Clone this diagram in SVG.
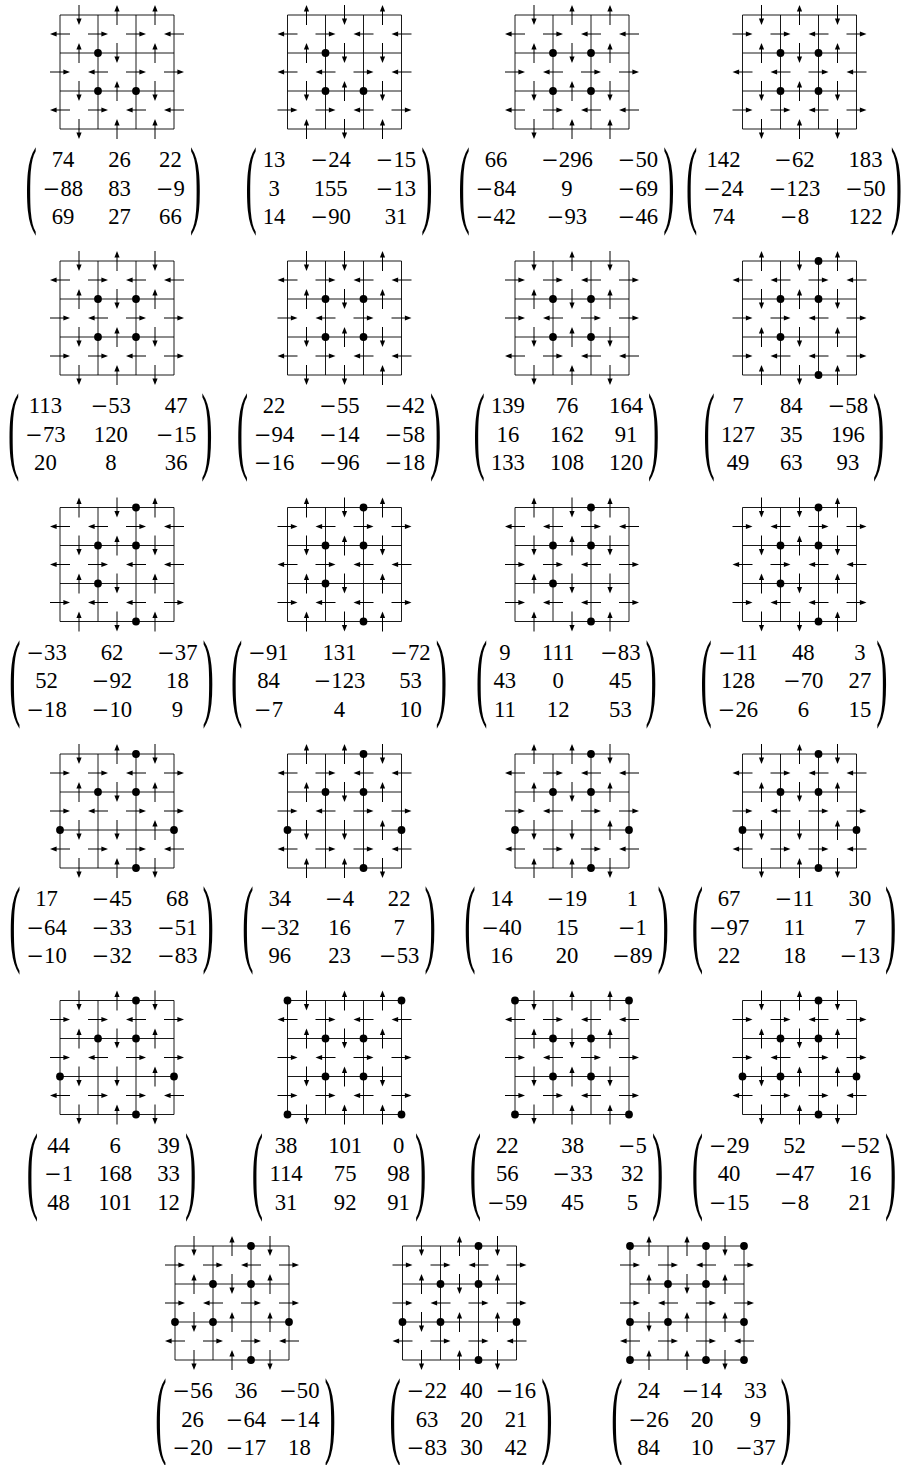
<svg xmlns="http://www.w3.org/2000/svg" width="910" height="1465" viewBox="0 0 910 1465">
<style>
.s{fill:none;stroke:#000;stroke-width:1}
.gl{fill:none;stroke:#000;stroke-width:0.9}
.n{font-family:"Liberation Serif",serif;font-size:22.7px;text-anchor:middle;fill:#000}
.mi{font-family:"DejaVu Serif",serif;font-size:21px}
.p{font-family:"Liberation Serif",serif;font-size:34px;fill:#000}
</style>
<defs>
<g id="U"><path class="s" d="M0 10V-4"/><path d="M0-10L-2.6-3.4H2.6Z"/></g>
<g id="D"><path class="s" d="M0-10V4"/><path d="M0 10L-2.6 3.4H2.6Z"/></g>
<g id="L"><path class="s" d="M10 0H-4"/><path d="M-10 0L-3.4-2.6V2.6Z"/></g>
<g id="R"><path class="s" d="M-10 0H4"/><path d="M10 0L3.4-2.6V2.6Z"/></g>
<path id="gr" class="gl" d="M0 0H114M0 38H114M0 76H114M0 114H114M0 0V114M38 0V114M76 0V114M114 0V114"/>
<circle id="dt" r="3.9"/>
</defs>

<g id="n1" transform="translate(60,15)">
<use href="#gr"/>
<use href="#D" x="19"/><use href="#U" x="57"/><use href="#U" x="95"/>
<use href="#U" x="19" y="38"/><use href="#D" x="57" y="38"/><use href="#U" x="95" y="38"/>
<use href="#D" x="19" y="76"/><use href="#U" x="57" y="76"/><use href="#D" x="95" y="76"/>
<use href="#D" x="19" y="114"/><use href="#U" x="57" y="114"/><use href="#U" x="95" y="114"/>
<use href="#L" y="19"/><use href="#R" x="38" y="19"/><use href="#R" x="76" y="19"/><use href="#L" x="114" y="19"/>
<use href="#R" y="57"/><use href="#L" x="38" y="57"/><use href="#R" x="76" y="57"/><use href="#R" x="114" y="57"/>
<use href="#L" y="95"/><use href="#R" x="38" y="95"/><use href="#L" x="76" y="95"/><use href="#L" x="114" y="95"/>
<use href="#dt" x="38" y="38"/><use href="#dt" x="38" y="76"/><use href="#dt" x="76" y="76"/>
<text class="p" transform="translate(-34.5 200.2) scale(1 2.87)">(</text><text class="p" transform="translate(129.9 200.2) scale(1 2.87)">)</text>
<text class="n" x="3" y="152.3">74</text><text class="n" x="59.5" y="152.3">26</text><text class="n" x="110.4" y="152.3">22</text>
<text class="n" x="3" y="180.6"><tspan class="mi">−</tspan>88</text><text class="n" x="59.5" y="180.6">83</text><text class="n" x="110.4" y="180.6"><tspan class="mi">−</tspan>9</text>
<text class="n" x="3" y="209">69</text><text class="n" x="59.5" y="209">27</text><text class="n" x="110.4" y="209">66</text>
</g>

<g id="n2" transform="translate(287.5,15)">
<use href="#gr"/>
<use href="#U" x="19"/><use href="#D" x="57"/><use href="#U" x="95"/>
<use href="#U" x="19" y="38"/><use href="#D" x="57" y="38"/><use href="#D" x="95" y="38"/>
<use href="#D" x="19" y="76"/><use href="#U" x="57" y="76"/><use href="#D" x="95" y="76"/>
<use href="#U" x="19" y="114"/><use href="#D" x="57" y="114"/><use href="#U" x="95" y="114"/>
<use href="#L" y="19"/><use href="#R" x="38" y="19"/><use href="#L" x="76" y="19"/><use href="#L" x="114" y="19"/>
<use href="#L" y="57"/><use href="#L" x="38" y="57"/><use href="#R" x="76" y="57"/><use href="#L" x="114" y="57"/>
<use href="#R" y="95"/><use href="#R" x="38" y="95"/><use href="#L" x="76" y="95"/><use href="#R" x="114" y="95"/>
<use href="#dt" x="38" y="38"/><use href="#dt" x="38" y="76"/><use href="#dt" x="76" y="76"/>
<text class="p" transform="translate(-42 200.2) scale(1 2.87)">(</text><text class="p" transform="translate(133.7 200.2) scale(1 2.87)">)</text>
<text class="n" x="-13.4" y="152.3">13</text><text class="n" x="43.2" y="152.3"><tspan class="mi">−</tspan>24</text><text class="n" x="108.5" y="152.3"><tspan class="mi">−</tspan>15</text>
<text class="n" x="-13.4" y="180.6">3</text><text class="n" x="43.2" y="180.6">155</text><text class="n" x="108.5" y="180.6"><tspan class="mi">−</tspan>13</text>
<text class="n" x="-13.4" y="209">14</text><text class="n" x="43.2" y="209"><tspan class="mi">−</tspan>90</text><text class="n" x="108.5" y="209">31</text>
</g>

<g id="n3" transform="translate(515,15)">
<use href="#gr"/>
<use href="#D" x="19"/><use href="#U" x="57"/><use href="#U" x="95"/>
<use href="#U" x="19" y="38"/><use href="#D" x="57" y="38"/><use href="#U" x="95" y="38"/>
<use href="#D" x="19" y="76"/><use href="#U" x="57" y="76"/><use href="#D" x="95" y="76"/>
<use href="#D" x="19" y="114"/><use href="#U" x="57" y="114"/><use href="#U" x="95" y="114"/>
<use href="#L" y="19"/><use href="#R" x="38" y="19"/><use href="#L" x="76" y="19"/><use href="#L" x="114" y="19"/>
<use href="#R" y="57"/><use href="#L" x="38" y="57"/><use href="#R" x="76" y="57"/><use href="#R" x="114" y="57"/>
<use href="#L" y="95"/><use href="#R" x="38" y="95"/><use href="#L" x="76" y="95"/><use href="#L" x="114" y="95"/>
<use href="#dt" x="38" y="38"/><use href="#dt" x="76" y="38"/><use href="#dt" x="38" y="76"/><use href="#dt" x="76" y="76"/>
<text class="p" transform="translate(-56.5 200.2) scale(1 2.87)">(</text><text class="p" transform="translate(148.2 200.2) scale(1 2.87)">)</text>
<text class="n" x="-19" y="152.3">66</text><text class="n" x="52" y="152.3"><tspan class="mi">−</tspan>296</text><text class="n" x="123" y="152.3"><tspan class="mi">−</tspan>50</text>
<text class="n" x="-19" y="180.6"><tspan class="mi">−</tspan>84</text><text class="n" x="52" y="180.6">9</text><text class="n" x="123" y="180.6"><tspan class="mi">−</tspan>69</text>
<text class="n" x="-19" y="209"><tspan class="mi">−</tspan>42</text><text class="n" x="52" y="209"><tspan class="mi">−</tspan>93</text><text class="n" x="123" y="209"><tspan class="mi">−</tspan>46</text>
</g>

<g id="n4" transform="translate(742.5,15)">
<use href="#gr"/>
<use href="#D" x="19"/><use href="#U" x="57"/><use href="#D" x="95"/>
<use href="#U" x="19" y="38"/><use href="#D" x="57" y="38"/><use href="#U" x="95" y="38"/>
<use href="#D" x="19" y="76"/><use href="#U" x="57" y="76"/><use href="#D" x="95" y="76"/>
<use href="#D" x="19" y="114"/><use href="#U" x="57" y="114"/><use href="#D" x="95" y="114"/>
<use href="#R" y="19"/><use href="#R" x="38" y="19"/><use href="#L" x="76" y="19"/><use href="#R" x="114" y="19"/>
<use href="#L" y="57"/><use href="#L" x="38" y="57"/><use href="#R" x="76" y="57"/><use href="#L" x="114" y="57"/>
<use href="#R" y="95"/><use href="#R" x="38" y="95"/><use href="#L" x="76" y="95"/><use href="#R" x="114" y="95"/>
<use href="#dt" x="38" y="38"/><use href="#dt" x="76" y="38"/><use href="#dt" x="38" y="76"/><use href="#dt" x="76" y="76"/>
<text class="p" transform="translate(-56.5 200.2) scale(1 2.87)">(</text><text class="p" transform="translate(148.2 200.2) scale(1 2.87)">)</text>
<text class="n" x="-19" y="152.3">142</text><text class="n" x="52" y="152.3"><tspan class="mi">−</tspan>62</text><text class="n" x="123" y="152.3">183</text>
<text class="n" x="-19" y="180.6"><tspan class="mi">−</tspan>24</text><text class="n" x="52" y="180.6"><tspan class="mi">−</tspan>123</text><text class="n" x="123" y="180.6"><tspan class="mi">−</tspan>50</text>
<text class="n" x="-19" y="209">74</text><text class="n" x="52" y="209"><tspan class="mi">−</tspan>8</text><text class="n" x="123" y="209">122</text>
</g>

<g id="n5" transform="translate(60,261)">
<use href="#gr"/>
<use href="#D" x="19"/><use href="#U" x="57"/><use href="#D" x="95"/>
<use href="#U" x="19" y="38"/><use href="#D" x="57" y="38"/><use href="#U" x="95" y="38"/>
<use href="#D" x="19" y="76"/><use href="#U" x="57" y="76"/><use href="#D" x="95" y="76"/>
<use href="#D" x="19" y="114"/><use href="#U" x="57" y="114"/><use href="#D" x="95" y="114"/>
<use href="#L" y="19"/><use href="#R" x="38" y="19"/><use href="#L" x="76" y="19"/><use href="#L" x="114" y="19"/>
<use href="#R" y="57"/><use href="#L" x="38" y="57"/><use href="#R" x="76" y="57"/><use href="#R" x="114" y="57"/>
<use href="#R" y="95"/><use href="#R" x="38" y="95"/><use href="#L" x="76" y="95"/><use href="#R" x="114" y="95"/>
<use href="#dt" x="38" y="38"/><use href="#dt" x="76" y="38"/><use href="#dt" x="38" y="76"/><use href="#dt" x="76" y="76"/>
<text class="p" transform="translate(-52 200.2) scale(1 2.87)">(</text><text class="p" transform="translate(141.3 200.2) scale(1 2.87)">)</text>
<text class="n" x="-14.6" y="152.3">113</text><text class="n" x="50.8" y="152.3"><tspan class="mi">−</tspan>53</text><text class="n" x="116.2" y="152.3">47</text>
<text class="n" x="-14.6" y="180.6"><tspan class="mi">−</tspan>73</text><text class="n" x="50.8" y="180.6">120</text><text class="n" x="116.2" y="180.6"><tspan class="mi">−</tspan>15</text>
<text class="n" x="-14.6" y="209">20</text><text class="n" x="50.8" y="209">8</text><text class="n" x="116.2" y="209">36</text>
</g>

<g id="n6" transform="translate(287.5,261)">
<use href="#gr"/>
<use href="#D" x="19"/><use href="#D" x="57"/><use href="#U" x="95"/>
<use href="#U" x="19" y="38"/><use href="#D" x="57" y="38"/><use href="#U" x="95" y="38"/>
<use href="#D" x="19" y="76"/><use href="#U" x="57" y="76"/><use href="#D" x="95" y="76"/>
<use href="#D" x="19" y="114"/><use href="#D" x="57" y="114"/><use href="#U" x="95" y="114"/>
<use href="#L" y="19"/><use href="#R" x="38" y="19"/><use href="#L" x="76" y="19"/><use href="#L" x="114" y="19"/>
<use href="#R" y="57"/><use href="#L" x="38" y="57"/><use href="#R" x="76" y="57"/><use href="#R" x="114" y="57"/>
<use href="#L" y="95"/><use href="#R" x="38" y="95"/><use href="#L" x="76" y="95"/><use href="#L" x="114" y="95"/>
<use href="#dt" x="38" y="38"/><use href="#dt" x="76" y="38"/><use href="#dt" x="38" y="76"/><use href="#dt" x="76" y="76"/>
<text class="p" transform="translate(-50.8 200.2) scale(1 2.87)">(</text><text class="p" transform="translate(142.5 200.2) scale(1 2.87)">)</text>
<text class="n" x="-13.4" y="152.3">22</text><text class="n" x="52" y="152.3"><tspan class="mi">−</tspan>55</text><text class="n" x="117.4" y="152.3"><tspan class="mi">−</tspan>42</text>
<text class="n" x="-13.4" y="180.6"><tspan class="mi">−</tspan>94</text><text class="n" x="52" y="180.6"><tspan class="mi">−</tspan>14</text><text class="n" x="117.4" y="180.6"><tspan class="mi">−</tspan>58</text>
<text class="n" x="-13.4" y="209"><tspan class="mi">−</tspan>16</text><text class="n" x="52" y="209"><tspan class="mi">−</tspan>96</text><text class="n" x="117.4" y="209"><tspan class="mi">−</tspan>18</text>
</g>

<g id="n7" transform="translate(515,261)">
<use href="#gr"/>
<use href="#D" x="19"/><use href="#U" x="57"/><use href="#D" x="95"/>
<use href="#U" x="19" y="38"/><use href="#D" x="57" y="38"/><use href="#U" x="95" y="38"/>
<use href="#D" x="19" y="76"/><use href="#U" x="57" y="76"/><use href="#D" x="95" y="76"/>
<use href="#D" x="19" y="114"/><use href="#U" x="57" y="114"/><use href="#D" x="95" y="114"/>
<use href="#R" y="19"/><use href="#R" x="38" y="19"/><use href="#L" x="76" y="19"/><use href="#R" x="114" y="19"/>
<use href="#R" y="57"/><use href="#L" x="38" y="57"/><use href="#R" x="76" y="57"/><use href="#R" x="114" y="57"/>
<use href="#L" y="95"/><use href="#R" x="38" y="95"/><use href="#L" x="76" y="95"/><use href="#L" x="114" y="95"/>
<use href="#dt" x="38" y="38"/><use href="#dt" x="76" y="38"/><use href="#dt" x="38" y="76"/><use href="#dt" x="76" y="76"/>
<text class="p" transform="translate(-41.4 200.2) scale(1 2.87)">(</text><text class="p" transform="translate(133.1 200.2) scale(1 2.87)">)</text>
<text class="n" x="-7.1" y="152.3">139</text><text class="n" x="52" y="152.3">76</text><text class="n" x="111.1" y="152.3">164</text>
<text class="n" x="-7.1" y="180.6">16</text><text class="n" x="52" y="180.6">162</text><text class="n" x="111.1" y="180.6">91</text>
<text class="n" x="-7.1" y="209">133</text><text class="n" x="52" y="209">108</text><text class="n" x="111.1" y="209">120</text>
</g>

<g id="n8" transform="translate(742.5,261)">
<use href="#gr"/>
<use href="#U" x="19"/><use href="#D" x="57"/><use href="#U" x="95"/>
<use href="#D" x="19" y="38"/><use href="#U" x="57" y="38"/><use href="#D" x="95" y="38"/>
<use href="#U" x="19" y="76"/><use href="#D" x="57" y="76"/><use href="#U" x="95" y="76"/>
<use href="#U" x="19" y="114"/><use href="#D" x="57" y="114"/><use href="#U" x="95" y="114"/>
<use href="#L" y="19"/><use href="#L" x="38" y="19"/><use href="#R" x="76" y="19"/><use href="#L" x="114" y="19"/>
<use href="#R" y="57"/><use href="#R" x="38" y="57"/><use href="#L" x="76" y="57"/><use href="#R" x="114" y="57"/>
<use href="#R" y="95"/><use href="#L" x="38" y="95"/><use href="#L" x="76" y="95"/><use href="#R" x="114" y="95"/>
<use href="#dt" x="76" y="0"/><use href="#dt" x="38" y="38"/><use href="#dt" x="76" y="38"/><use href="#dt" x="38" y="76"/><use href="#dt" x="76" y="114"/>
<text class="p" transform="translate(-38.9 200.2) scale(1 2.87)">(</text><text class="p" transform="translate(130.6 200.2) scale(1 2.87)">)</text>
<text class="n" x="-4.5" y="152.3">7</text><text class="n" x="48.8" y="152.3">84</text><text class="n" x="105.4" y="152.3"><tspan class="mi">−</tspan>58</text>
<text class="n" x="-4.5" y="180.6">127</text><text class="n" x="48.8" y="180.6">35</text><text class="n" x="105.4" y="180.6">196</text>
<text class="n" x="-4.5" y="209">49</text><text class="n" x="48.8" y="209">63</text><text class="n" x="105.4" y="209">93</text>
</g>

<g id="n9" transform="translate(60,507.5)">
<use href="#gr"/>
<use href="#U" x="19"/><use href="#D" x="57"/><use href="#U" x="95"/>
<use href="#D" x="19" y="38"/><use href="#U" x="57" y="38"/><use href="#D" x="95" y="38"/>
<use href="#U" x="19" y="76"/><use href="#D" x="57" y="76"/><use href="#U" x="95" y="76"/>
<use href="#U" x="19" y="114"/><use href="#D" x="57" y="114"/><use href="#U" x="95" y="114"/>
<use href="#L" y="19"/><use href="#L" x="38" y="19"/><use href="#R" x="76" y="19"/><use href="#L" x="114" y="19"/>
<use href="#L" y="57"/><use href="#R" x="38" y="57"/><use href="#L" x="76" y="57"/><use href="#L" x="114" y="57"/>
<use href="#R" y="95"/><use href="#L" x="38" y="95"/><use href="#L" x="76" y="95"/><use href="#R" x="114" y="95"/>
<use href="#dt" x="76" y="0"/><use href="#dt" x="38" y="38"/><use href="#dt" x="76" y="38"/><use href="#dt" x="38" y="76"/><use href="#dt" x="76" y="114"/>
<text class="p" transform="translate(-50.8 200.2) scale(1 2.87)">(</text><text class="p" transform="translate(142.5 200.2) scale(1 2.87)">)</text>
<text class="n" x="-13.4" y="152.3"><tspan class="mi">−</tspan>33</text><text class="n" x="52" y="152.3">62</text><text class="n" x="117.4" y="152.3"><tspan class="mi">−</tspan>37</text>
<text class="n" x="-13.4" y="180.6">52</text><text class="n" x="52" y="180.6"><tspan class="mi">−</tspan>92</text><text class="n" x="117.4" y="180.6">18</text>
<text class="n" x="-13.4" y="209"><tspan class="mi">−</tspan>18</text><text class="n" x="52" y="209"><tspan class="mi">−</tspan>10</text><text class="n" x="117.4" y="209">9</text>
</g>

<g id="n10" transform="translate(287.5,507.5)">
<use href="#gr"/>
<use href="#U" x="19"/><use href="#D" x="57"/><use href="#U" x="95"/>
<use href="#D" x="19" y="38"/><use href="#U" x="57" y="38"/><use href="#D" x="95" y="38"/>
<use href="#U" x="19" y="76"/><use href="#D" x="57" y="76"/><use href="#U" x="95" y="76"/>
<use href="#U" x="19" y="114"/><use href="#D" x="57" y="114"/><use href="#U" x="95" y="114"/>
<use href="#R" y="19"/><use href="#L" x="38" y="19"/><use href="#R" x="76" y="19"/><use href="#R" x="114" y="19"/>
<use href="#L" y="57"/><use href="#R" x="38" y="57"/><use href="#L" x="76" y="57"/><use href="#L" x="114" y="57"/>
<use href="#R" y="95"/><use href="#L" x="38" y="95"/><use href="#L" x="76" y="95"/><use href="#R" x="114" y="95"/>
<use href="#dt" x="76" y="0"/><use href="#dt" x="38" y="38"/><use href="#dt" x="76" y="38"/><use href="#dt" x="38" y="76"/><use href="#dt" x="76" y="114"/>
<text class="p" transform="translate(-56.5 200.2) scale(1 2.87)">(</text><text class="p" transform="translate(148.2 200.2) scale(1 2.87)">)</text>
<text class="n" x="-19" y="152.3"><tspan class="mi">−</tspan>91</text><text class="n" x="52" y="152.3">131</text><text class="n" x="123" y="152.3"><tspan class="mi">−</tspan>72</text>
<text class="n" x="-19" y="180.6">84</text><text class="n" x="52" y="180.6"><tspan class="mi">−</tspan>123</text><text class="n" x="123" y="180.6">53</text>
<text class="n" x="-19" y="209"><tspan class="mi">−</tspan>7</text><text class="n" x="52" y="209">4</text><text class="n" x="123" y="209">10</text>
</g>

<g id="n11" transform="translate(515,507.5)">
<use href="#gr"/>
<use href="#U" x="19"/><use href="#D" x="57"/><use href="#U" x="95"/>
<use href="#D" x="19" y="38"/><use href="#U" x="57" y="38"/><use href="#D" x="95" y="38"/>
<use href="#U" x="19" y="76"/><use href="#D" x="57" y="76"/><use href="#D" x="95" y="76"/>
<use href="#U" x="19" y="114"/><use href="#D" x="57" y="114"/><use href="#U" x="95" y="114"/>
<use href="#L" y="19"/><use href="#L" x="38" y="19"/><use href="#R" x="76" y="19"/><use href="#L" x="114" y="19"/>
<use href="#R" y="57"/><use href="#R" x="38" y="57"/><use href="#L" x="76" y="57"/><use href="#R" x="114" y="57"/>
<use href="#R" y="95"/><use href="#L" x="38" y="95"/><use href="#L" x="76" y="95"/><use href="#R" x="114" y="95"/>
<use href="#dt" x="76" y="0"/><use href="#dt" x="38" y="38"/><use href="#dt" x="76" y="38"/><use href="#dt" x="38" y="76"/><use href="#dt" x="76" y="114"/>
<text class="p" transform="translate(-38.9 200.2) scale(1 2.87)">(</text><text class="p" transform="translate(130.6 200.2) scale(1 2.87)">)</text>
<text class="n" x="-10.2" y="152.3">9</text><text class="n" x="43.2" y="152.3">111</text><text class="n" x="105.4" y="152.3"><tspan class="mi">−</tspan>83</text>
<text class="n" x="-10.2" y="180.6">43</text><text class="n" x="43.2" y="180.6">0</text><text class="n" x="105.4" y="180.6">45</text>
<text class="n" x="-10.2" y="209">11</text><text class="n" x="43.2" y="209">12</text><text class="n" x="105.4" y="209">53</text>
</g>

<g id="n12" transform="translate(742.5,507.5)">
<use href="#gr"/>
<use href="#D" x="19"/><use href="#D" x="57"/><use href="#U" x="95"/>
<use href="#D" x="19" y="38"/><use href="#U" x="57" y="38"/><use href="#D" x="95" y="38"/>
<use href="#U" x="19" y="76"/><use href="#D" x="57" y="76"/><use href="#U" x="95" y="76"/>
<use href="#D" x="19" y="114"/><use href="#D" x="57" y="114"/><use href="#U" x="95" y="114"/>
<use href="#R" y="19"/><use href="#L" x="38" y="19"/><use href="#R" x="76" y="19"/><use href="#R" x="114" y="19"/>
<use href="#L" y="57"/><use href="#R" x="38" y="57"/><use href="#L" x="76" y="57"/><use href="#L" x="114" y="57"/>
<use href="#R" y="95"/><use href="#L" x="38" y="95"/><use href="#L" x="76" y="95"/><use href="#R" x="114" y="95"/>
<use href="#dt" x="76" y="0"/><use href="#dt" x="38" y="38"/><use href="#dt" x="76" y="38"/><use href="#dt" x="38" y="76"/><use href="#dt" x="76" y="114"/>
<text class="p" transform="translate(-42 200.2) scale(1 2.87)">(</text><text class="p" transform="translate(133.7 200.2) scale(1 2.87)">)</text>
<text class="n" x="-4.5" y="152.3"><tspan class="mi">−</tspan>11</text><text class="n" x="60.8" y="152.3">48</text><text class="n" x="117.4" y="152.3">3</text>
<text class="n" x="-4.5" y="180.6">128</text><text class="n" x="60.8" y="180.6"><tspan class="mi">−</tspan>70</text><text class="n" x="117.4" y="180.6">27</text>
<text class="n" x="-4.5" y="209"><tspan class="mi">−</tspan>26</text><text class="n" x="60.8" y="209">6</text><text class="n" x="117.4" y="209">15</text>
</g>

<g id="n13" transform="translate(60,754)">
<use href="#gr"/>
<use href="#D" x="19"/><use href="#U" x="57"/><use href="#D" x="95"/>
<use href="#U" x="19" y="38"/><use href="#D" x="57" y="38"/><use href="#U" x="95" y="38"/>
<use href="#D" x="19" y="76"/><use href="#D" x="57" y="76"/><use href="#U" x="95" y="76"/>
<use href="#D" x="19" y="114"/><use href="#U" x="57" y="114"/><use href="#D" x="95" y="114"/>
<use href="#R" y="19"/><use href="#R" x="38" y="19"/><use href="#L" x="76" y="19"/><use href="#R" x="114" y="19"/>
<use href="#R" y="57"/><use href="#L" x="38" y="57"/><use href="#R" x="76" y="57"/><use href="#R" x="114" y="57"/>
<use href="#L" y="95"/><use href="#R" x="38" y="95"/><use href="#R" x="76" y="95"/><use href="#L" x="114" y="95"/>
<use href="#dt" x="76" y="0"/><use href="#dt" x="38" y="38"/><use href="#dt" x="76" y="38"/><use href="#dt" x="0" y="76"/><use href="#dt" x="114" y="76"/><use href="#dt" x="76" y="114"/>
<text class="p" transform="translate(-50.8 200.2) scale(1 2.87)">(</text><text class="p" transform="translate(142.5 200.2) scale(1 2.87)">)</text>
<text class="n" x="-13.4" y="152.3">17</text><text class="n" x="52" y="152.3"><tspan class="mi">−</tspan>45</text><text class="n" x="117.4" y="152.3">68</text>
<text class="n" x="-13.4" y="180.6"><tspan class="mi">−</tspan>64</text><text class="n" x="52" y="180.6"><tspan class="mi">−</tspan>33</text><text class="n" x="117.4" y="180.6"><tspan class="mi">−</tspan>51</text>
<text class="n" x="-13.4" y="209"><tspan class="mi">−</tspan>10</text><text class="n" x="52" y="209"><tspan class="mi">−</tspan>32</text><text class="n" x="117.4" y="209"><tspan class="mi">−</tspan>83</text>
</g>

<g id="n14" transform="translate(287.5,754)">
<use href="#gr"/>
<use href="#U" x="19"/><use href="#U" x="57"/><use href="#D" x="95"/>
<use href="#U" x="19" y="38"/><use href="#D" x="57" y="38"/><use href="#U" x="95" y="38"/>
<use href="#D" x="19" y="76"/><use href="#D" x="57" y="76"/><use href="#U" x="95" y="76"/>
<use href="#U" x="19" y="114"/><use href="#U" x="57" y="114"/><use href="#D" x="95" y="114"/>
<use href="#L" y="19"/><use href="#R" x="38" y="19"/><use href="#L" x="76" y="19"/><use href="#L" x="114" y="19"/>
<use href="#R" y="57"/><use href="#L" x="38" y="57"/><use href="#R" x="76" y="57"/><use href="#R" x="114" y="57"/>
<use href="#L" y="95"/><use href="#R" x="38" y="95"/><use href="#R" x="76" y="95"/><use href="#L" x="114" y="95"/>
<use href="#dt" x="76" y="0"/><use href="#dt" x="38" y="38"/><use href="#dt" x="76" y="38"/><use href="#dt" x="0" y="76"/><use href="#dt" x="114" y="76"/><use href="#dt" x="76" y="114"/>
<text class="p" transform="translate(-45.2 200.2) scale(1 2.87)">(</text><text class="p" transform="translate(136.9 200.2) scale(1 2.87)">)</text>
<text class="n" x="-7.7" y="152.3">34</text><text class="n" x="52" y="152.3"><tspan class="mi">−</tspan>4</text><text class="n" x="111.7" y="152.3">22</text>
<text class="n" x="-7.7" y="180.6"><tspan class="mi">−</tspan>32</text><text class="n" x="52" y="180.6">16</text><text class="n" x="111.7" y="180.6">7</text>
<text class="n" x="-7.7" y="209">96</text><text class="n" x="52" y="209">23</text><text class="n" x="111.7" y="209"><tspan class="mi">−</tspan>53</text>
</g>

<g id="n15" transform="translate(515,754)">
<use href="#gr"/>
<use href="#U" x="19"/><use href="#U" x="57"/><use href="#D" x="95"/>
<use href="#U" x="19" y="38"/><use href="#D" x="57" y="38"/><use href="#U" x="95" y="38"/>
<use href="#D" x="19" y="76"/><use href="#D" x="57" y="76"/><use href="#U" x="95" y="76"/>
<use href="#U" x="19" y="114"/><use href="#U" x="57" y="114"/><use href="#D" x="95" y="114"/>
<use href="#L" y="19"/><use href="#R" x="38" y="19"/><use href="#L" x="76" y="19"/><use href="#L" x="114" y="19"/>
<use href="#R" y="57"/><use href="#L" x="38" y="57"/><use href="#R" x="76" y="57"/><use href="#R" x="114" y="57"/>
<use href="#L" y="95"/><use href="#R" x="38" y="95"/><use href="#R" x="76" y="95"/><use href="#L" x="114" y="95"/>
<use href="#dt" x="76" y="0"/><use href="#dt" x="38" y="38"/><use href="#dt" x="76" y="38"/><use href="#dt" x="0" y="76"/><use href="#dt" x="114" y="76"/><use href="#dt" x="76" y="114"/>
<text class="p" transform="translate(-50.8 200.2) scale(1 2.87)">(</text><text class="p" transform="translate(142.5 200.2) scale(1 2.87)">)</text>
<text class="n" x="-13.4" y="152.3">14</text><text class="n" x="52" y="152.3"><tspan class="mi">−</tspan>19</text><text class="n" x="117.4" y="152.3">1</text>
<text class="n" x="-13.4" y="180.6"><tspan class="mi">−</tspan>40</text><text class="n" x="52" y="180.6">15</text><text class="n" x="117.4" y="180.6"><tspan class="mi">−</tspan>1</text>
<text class="n" x="-13.4" y="209">16</text><text class="n" x="52" y="209">20</text><text class="n" x="117.4" y="209"><tspan class="mi">−</tspan>89</text>
</g>

<g id="n16" transform="translate(742.5,754)">
<use href="#gr"/>
<use href="#D" x="19"/><use href="#U" x="57"/><use href="#D" x="95"/>
<use href="#U" x="19" y="38"/><use href="#D" x="57" y="38"/><use href="#U" x="95" y="38"/>
<use href="#D" x="19" y="76"/><use href="#D" x="57" y="76"/><use href="#U" x="95" y="76"/>
<use href="#D" x="19" y="114"/><use href="#U" x="57" y="114"/><use href="#D" x="95" y="114"/>
<use href="#L" y="19"/><use href="#R" x="38" y="19"/><use href="#L" x="76" y="19"/><use href="#L" x="114" y="19"/>
<use href="#R" y="57"/><use href="#L" x="38" y="57"/><use href="#R" x="76" y="57"/><use href="#R" x="114" y="57"/>
<use href="#L" y="95"/><use href="#R" x="38" y="95"/><use href="#R" x="76" y="95"/><use href="#L" x="114" y="95"/>
<use href="#dt" x="76" y="0"/><use href="#dt" x="38" y="38"/><use href="#dt" x="76" y="38"/><use href="#dt" x="0" y="76"/><use href="#dt" x="114" y="76"/><use href="#dt" x="76" y="114"/>
<text class="p" transform="translate(-50.8 200.2) scale(1 2.87)">(</text><text class="p" transform="translate(142.5 200.2) scale(1 2.87)">)</text>
<text class="n" x="-13.4" y="152.3">67</text><text class="n" x="52" y="152.3"><tspan class="mi">−</tspan>11</text><text class="n" x="117.4" y="152.3">30</text>
<text class="n" x="-13.4" y="180.6"><tspan class="mi">−</tspan>97</text><text class="n" x="52" y="180.6">11</text><text class="n" x="117.4" y="180.6">7</text>
<text class="n" x="-13.4" y="209">22</text><text class="n" x="52" y="209">18</text><text class="n" x="117.4" y="209"><tspan class="mi">−</tspan>13</text>
</g>

<g id="n17" transform="translate(60,1000.5)">
<use href="#gr"/>
<use href="#D" x="19"/><use href="#U" x="57"/><use href="#D" x="95"/>
<use href="#U" x="19" y="38"/><use href="#D" x="57" y="38"/><use href="#U" x="95" y="38"/>
<use href="#D" x="19" y="76"/><use href="#D" x="57" y="76"/><use href="#U" x="95" y="76"/>
<use href="#D" x="19" y="114"/><use href="#U" x="57" y="114"/><use href="#D" x="95" y="114"/>
<use href="#R" y="19"/><use href="#R" x="38" y="19"/><use href="#L" x="76" y="19"/><use href="#R" x="114" y="19"/>
<use href="#R" y="57"/><use href="#L" x="38" y="57"/><use href="#R" x="76" y="57"/><use href="#R" x="114" y="57"/>
<use href="#L" y="95"/><use href="#R" x="38" y="95"/><use href="#R" x="76" y="95"/><use href="#L" x="114" y="95"/>
<use href="#dt" x="76" y="0"/><use href="#dt" x="38" y="38"/><use href="#dt" x="76" y="38"/><use href="#dt" x="0" y="76"/><use href="#dt" x="114" y="76"/><use href="#dt" x="76" y="114"/>
<text class="p" transform="translate(-33.2 200.2) scale(1 2.87)">(</text><text class="p" transform="translate(124.9 200.2) scale(1 2.87)">)</text>
<text class="n" x="-1.4" y="152.3">44</text><text class="n" x="55.2" y="152.3">6</text><text class="n" x="108.5" y="152.3">39</text>
<text class="n" x="-1.4" y="180.6"><tspan class="mi">−</tspan>1</text><text class="n" x="55.2" y="180.6">168</text><text class="n" x="108.5" y="180.6">33</text>
<text class="n" x="-1.4" y="209">48</text><text class="n" x="55.2" y="209">101</text><text class="n" x="108.5" y="209">12</text>
</g>

<g id="n18" transform="translate(287.5,1000.5)">
<use href="#gr"/>
<use href="#D" x="19"/><use href="#U" x="57"/><use href="#U" x="95"/>
<use href="#U" x="19" y="38"/><use href="#D" x="57" y="38"/><use href="#U" x="95" y="38"/>
<use href="#D" x="19" y="76"/><use href="#U" x="57" y="76"/><use href="#D" x="95" y="76"/>
<use href="#D" x="19" y="114"/><use href="#U" x="57" y="114"/><use href="#U" x="95" y="114"/>
<use href="#L" y="19"/><use href="#R" x="38" y="19"/><use href="#L" x="76" y="19"/><use href="#L" x="114" y="19"/>
<use href="#R" y="57"/><use href="#L" x="38" y="57"/><use href="#R" x="76" y="57"/><use href="#R" x="114" y="57"/>
<use href="#R" y="95"/><use href="#R" x="38" y="95"/><use href="#L" x="76" y="95"/><use href="#R" x="114" y="95"/>
<use href="#dt" x="0" y="0"/><use href="#dt" x="114" y="0"/><use href="#dt" x="0" y="114"/><use href="#dt" x="114" y="114"/><use href="#dt" x="38" y="38"/><use href="#dt" x="76" y="38"/><use href="#dt" x="38" y="76"/><use href="#dt" x="76" y="76"/>
<text class="p" transform="translate(-35.7 200.2) scale(1 2.87)">(</text><text class="p" transform="translate(127.4 200.2) scale(1 2.87)">)</text>
<text class="n" x="-1.4" y="152.3">38</text><text class="n" x="57.7" y="152.3">101</text><text class="n" x="111.1" y="152.3">0</text>
<text class="n" x="-1.4" y="180.6">114</text><text class="n" x="57.7" y="180.6">75</text><text class="n" x="111.1" y="180.6">98</text>
<text class="n" x="-1.4" y="209">31</text><text class="n" x="57.7" y="209">92</text><text class="n" x="111.1" y="209">91</text>
</g>

<g id="n19" transform="translate(515,1000.5)">
<use href="#gr"/>
<use href="#D" x="19"/><use href="#U" x="57"/><use href="#U" x="95"/>
<use href="#U" x="19" y="38"/><use href="#D" x="57" y="38"/><use href="#U" x="95" y="38"/>
<use href="#D" x="19" y="76"/><use href="#U" x="57" y="76"/><use href="#D" x="95" y="76"/>
<use href="#D" x="19" y="114"/><use href="#U" x="57" y="114"/><use href="#U" x="95" y="114"/>
<use href="#L" y="19"/><use href="#R" x="38" y="19"/><use href="#L" x="76" y="19"/><use href="#L" x="114" y="19"/>
<use href="#R" y="57"/><use href="#L" x="38" y="57"/><use href="#R" x="76" y="57"/><use href="#R" x="114" y="57"/>
<use href="#R" y="95"/><use href="#R" x="38" y="95"/><use href="#L" x="76" y="95"/><use href="#R" x="114" y="95"/>
<use href="#dt" x="0" y="0"/><use href="#dt" x="114" y="0"/><use href="#dt" x="0" y="114"/><use href="#dt" x="114" y="114"/><use href="#dt" x="38" y="38"/><use href="#dt" x="76" y="38"/><use href="#dt" x="38" y="76"/><use href="#dt" x="76" y="76"/>
<text class="p" transform="translate(-45.2 200.2) scale(1 2.87)">(</text><text class="p" transform="translate(136.9 200.2) scale(1 2.87)">)</text>
<text class="n" x="-7.7" y="152.3">22</text><text class="n" x="57.7" y="152.3">38</text><text class="n" x="117.4" y="152.3"><tspan class="mi">−</tspan>5</text>
<text class="n" x="-7.7" y="180.6">56</text><text class="n" x="57.7" y="180.6"><tspan class="mi">−</tspan>33</text><text class="n" x="117.4" y="180.6">32</text>
<text class="n" x="-7.7" y="209"><tspan class="mi">−</tspan>59</text><text class="n" x="57.7" y="209">45</text><text class="n" x="117.4" y="209">5</text>
</g>

<g id="n20" transform="translate(742.5,1000.5)">
<use href="#gr"/>
<use href="#D" x="19"/><use href="#U" x="57"/><use href="#D" x="95"/>
<use href="#U" x="19" y="38"/><use href="#D" x="57" y="38"/><use href="#U" x="95" y="38"/>
<use href="#D" x="19" y="76"/><use href="#U" x="57" y="76"/><use href="#U" x="95" y="76"/>
<use href="#D" x="19" y="114"/><use href="#U" x="57" y="114"/><use href="#D" x="95" y="114"/>
<use href="#R" y="19"/><use href="#R" x="38" y="19"/><use href="#L" x="76" y="19"/><use href="#R" x="114" y="19"/>
<use href="#R" y="57"/><use href="#L" x="38" y="57"/><use href="#R" x="76" y="57"/><use href="#R" x="114" y="57"/>
<use href="#L" y="95"/><use href="#R" x="38" y="95"/><use href="#R" x="76" y="95"/><use href="#L" x="114" y="95"/>
<use href="#dt" x="76" y="0"/><use href="#dt" x="38" y="38"/><use href="#dt" x="76" y="38"/><use href="#dt" x="0" y="76"/><use href="#dt" x="38" y="76"/><use href="#dt" x="114" y="76"/><use href="#dt" x="76" y="114"/>
<text class="p" transform="translate(-50.8 200.2) scale(1 2.87)">(</text><text class="p" transform="translate(142.5 200.2) scale(1 2.87)">)</text>
<text class="n" x="-13.4" y="152.3"><tspan class="mi">−</tspan>29</text><text class="n" x="52" y="152.3">52</text><text class="n" x="117.4" y="152.3"><tspan class="mi">−</tspan>52</text>
<text class="n" x="-13.4" y="180.6">40</text><text class="n" x="52" y="180.6"><tspan class="mi">−</tspan>47</text><text class="n" x="117.4" y="180.6">16</text>
<text class="n" x="-13.4" y="209"><tspan class="mi">−</tspan>15</text><text class="n" x="52" y="209"><tspan class="mi">−</tspan>8</text><text class="n" x="117.4" y="209">21</text>
</g>

<g id="n21" transform="translate(175,1246)">
<use href="#gr"/>
<use href="#D" x="19"/><use href="#U" x="57"/><use href="#D" x="95"/>
<use href="#U" x="19" y="38"/><use href="#D" x="57" y="38"/><use href="#U" x="95" y="38"/>
<use href="#D" x="19" y="76"/><use href="#U" x="57" y="76"/><use href="#U" x="95" y="76"/>
<use href="#D" x="19" y="114"/><use href="#U" x="57" y="114"/><use href="#D" x="95" y="114"/>
<use href="#R" y="19"/><use href="#R" x="38" y="19"/><use href="#L" x="76" y="19"/><use href="#R" x="114" y="19"/>
<use href="#R" y="57"/><use href="#L" x="38" y="57"/><use href="#R" x="76" y="57"/><use href="#R" x="114" y="57"/>
<use href="#L" y="95"/><use href="#R" x="38" y="95"/><use href="#R" x="76" y="95"/><use href="#L" x="114" y="95"/>
<use href="#dt" x="76" y="0"/><use href="#dt" x="38" y="38"/><use href="#dt" x="76" y="38"/><use href="#dt" x="0" y="76"/><use href="#dt" x="38" y="76"/><use href="#dt" x="114" y="76"/><use href="#dt" x="76" y="114"/>
<text class="p" transform="translate(-19.8 200.2) scale(1 2.87)">(</text><text class="p" transform="translate(149.5 200.2) scale(1 2.87)">)</text>
<text class="n" x="17.6" y="152.3"><tspan class="mi">−</tspan>56</text><text class="n" x="71" y="152.3">36</text><text class="n" x="124.4" y="152.3"><tspan class="mi">−</tspan>50</text>
<text class="n" x="17.6" y="180.6">26</text><text class="n" x="71" y="180.6"><tspan class="mi">−</tspan>64</text><text class="n" x="124.4" y="180.6"><tspan class="mi">−</tspan>14</text>
<text class="n" x="17.6" y="209"><tspan class="mi">−</tspan>20</text><text class="n" x="71" y="209"><tspan class="mi">−</tspan>17</text><text class="n" x="124.4" y="209">18</text>
</g>

<g id="n22" transform="translate(402.5,1246)">
<use href="#gr"/>
<use href="#D" x="19"/><use href="#U" x="57"/><use href="#D" x="95"/>
<use href="#U" x="19" y="38"/><use href="#D" x="57" y="38"/><use href="#U" x="95" y="38"/>
<use href="#D" x="19" y="76"/><use href="#U" x="57" y="76"/><use href="#U" x="95" y="76"/>
<use href="#D" x="19" y="114"/><use href="#U" x="57" y="114"/><use href="#D" x="95" y="114"/>
<use href="#R" y="19"/><use href="#R" x="38" y="19"/><use href="#L" x="76" y="19"/><use href="#R" x="114" y="19"/>
<use href="#R" y="57"/><use href="#L" x="38" y="57"/><use href="#R" x="76" y="57"/><use href="#R" x="114" y="57"/>
<use href="#L" y="95"/><use href="#R" x="38" y="95"/><use href="#R" x="76" y="95"/><use href="#L" x="114" y="95"/>
<use href="#dt" x="76" y="0"/><use href="#dt" x="38" y="38"/><use href="#dt" x="76" y="38"/><use href="#dt" x="0" y="76"/><use href="#dt" x="38" y="76"/><use href="#dt" x="114" y="76"/><use href="#dt" x="76" y="114"/>
<text class="p" transform="translate(-13 200.2) scale(1 2.87)">(</text><text class="p" transform="translate(138.7 200.2) scale(1 2.87)">)</text>
<text class="n" x="24.5" y="152.3"><tspan class="mi">−</tspan>22</text><text class="n" x="69" y="152.3">40</text><text class="n" x="113.5" y="152.3"><tspan class="mi">−</tspan>16</text>
<text class="n" x="24.5" y="180.6">63</text><text class="n" x="69" y="180.6">20</text><text class="n" x="113.5" y="180.6">21</text>
<text class="n" x="24.5" y="209"><tspan class="mi">−</tspan>83</text><text class="n" x="69" y="209">30</text><text class="n" x="113.5" y="209">42</text>
</g>

<g id="n23" transform="translate(630,1246)">
<use href="#gr"/>
<use href="#U" x="19"/><use href="#U" x="57"/><use href="#D" x="95"/>
<use href="#U" x="19" y="38"/><use href="#D" x="57" y="38"/><use href="#U" x="95" y="38"/>
<use href="#D" x="19" y="76"/><use href="#U" x="57" y="76"/><use href="#U" x="95" y="76"/>
<use href="#U" x="19" y="114"/><use href="#U" x="57" y="114"/><use href="#D" x="95" y="114"/>
<use href="#R" y="19"/><use href="#R" x="38" y="19"/><use href="#L" x="76" y="19"/><use href="#R" x="114" y="19"/>
<use href="#R" y="57"/><use href="#L" x="38" y="57"/><use href="#R" x="76" y="57"/><use href="#R" x="114" y="57"/>
<use href="#L" y="95"/><use href="#R" x="38" y="95"/><use href="#R" x="76" y="95"/><use href="#L" x="114" y="95"/>
<use href="#dt" x="0" y="0"/><use href="#dt" x="76" y="0"/><use href="#dt" x="114" y="0"/><use href="#dt" x="38" y="38"/><use href="#dt" x="76" y="38"/><use href="#dt" x="0" y="76"/><use href="#dt" x="38" y="76"/><use href="#dt" x="114" y="76"/><use href="#dt" x="0" y="114"/><use href="#dt" x="76" y="114"/><use href="#dt" x="114" y="114"/>
<text class="p" transform="translate(-18.8 200.2) scale(1 2.87)">(</text><text class="p" transform="translate(150.5 200.2) scale(1 2.87)">)</text>
<text class="n" x="18.6" y="152.3">24</text><text class="n" x="72" y="152.3"><tspan class="mi">−</tspan>14</text><text class="n" x="125.4" y="152.3">33</text>
<text class="n" x="18.6" y="180.6"><tspan class="mi">−</tspan>26</text><text class="n" x="72" y="180.6">20</text><text class="n" x="125.4" y="180.6">9</text>
<text class="n" x="18.6" y="209">84</text><text class="n" x="72" y="209">10</text><text class="n" x="125.4" y="209"><tspan class="mi">−</tspan>37</text>
</g>
</svg>
